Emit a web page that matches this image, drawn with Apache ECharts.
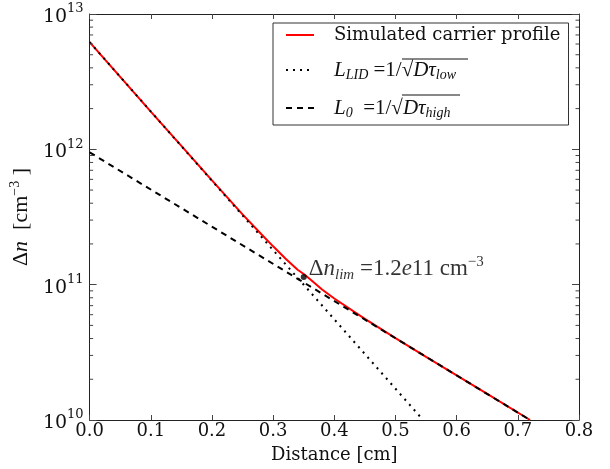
<!DOCTYPE html>
<html><head><meta charset="utf-8">
<script src="https://cdn.jsdelivr.net/npm/echarts@6/dist/echarts.min.js"></script>
<style>html,body{margin:0;padding:0;background:#fff}#c{width:610px;height:469px}</style>
</head><body><div id="c"></div>
<script>
// ---- data ----
const xTickValues = [0, 0.1, 0.2, 0.3, 0.4, 0.5, 0.6, 0.7, 0.8];
const yTickExponents = [10, 11, 12, 13];
const simX = [0, 0.05, 0.10, 0.15, 0.20, 0.25, 0.28, 0.30, 0.32, 0.34, 0.35, 0.36, 0.38, 0.40, 0.45, 0.50, 0.55, 0.60, 0.65, 0.72];
const simY = [6.2e12, 3.43e12, 1.9e12, 1.06e12, 5.9e11, 3.31e11, 2.38e11, 1.92e11, 1.56e11, 1.29e11, 1.2e11, 1.1e11, 9.2e10, 7.9e10, 5.59e10, 4.03e10, 2.93e10, 2.14e10, 1.56e10, 1.0e10];
const lidX = [0, 0.541];
const lidY = [6.2e12, 1.05e10];
const l0X = [0, 0.72];
const l0Y = [9.5e11, 1.0e10];
const limX = [0.35];
const limY = [1.14e11];
const minorY = [];
[1e10, 1e11, 1e12].forEach(d => { for (let k = 2; k <= 9; k++) minorY.push(k * d); });

const zip = (a, b) => a.map((v, i) => [v, b[i]]);
const SERIF = '"DejaVu Serif", serif';
const MATH = '"Liberation Serif", "DejaVu Serif", serif';

const chart = echarts.init(document.getElementById('c'), null, {renderer: 'canvas'});
const axisLineStyle = {color: '#222', width: 1};
const tickStyle = {color: '#444', width: 1};
const option = {
  animation: false,
  backgroundColor: '#fff',
  grid: {left: 88, right: 31, top: 14, bottom: 46},
  xAxis: [{
    type: 'value', min: 0, max: 0.8, interval: 0.1,
    name: 'Distance [cm]', nameLocation: 'middle', nameGap: 26,
    nameTextStyle: {fontFamily: SERIF, fontSize: 18, color: '#111'},
    axisLine: {show: true, onZero: false, lineStyle: axisLineStyle},
    axisTick: {show: true, inside: true, length: 5, lineStyle: tickStyle},
    axisLabel: {fontFamily: SERIF, fontSize: 18, color: '#111', margin: 2,
      formatter: v => xTickValues.some(t => Math.abs(t - v) < 1e-9) ? v.toFixed(1) : ''},
    splitLine: {show: false}
  }, {
    type: 'value', min: 0, max: 0.8, interval: 0.1, position: 'top',
    axisLine: {show: true, onZero: false, lineStyle: axisLineStyle},
    axisTick: {show: true, inside: true, length: 5, lineStyle: tickStyle},
    axisLabel: {show: false}, splitLine: {show: false}
  }],
  yAxis: [{
    type: 'log', logBase: 10, min: 1e10, max: 1e13, position: 'left',
    name: '{d|Δ}{n|n}{d|  [cm}{s|−3}{d| ]}', nameLocation: 'middle', nameGap: 50, nameRotate: 90,
    nameTextStyle: {rich: {
      d: {fontFamily: MATH, fontSize: 22, color: '#111'},
      n: {fontFamily: MATH, fontSize: 22, fontStyle: 'italic', color: '#111'},
      s: {fontFamily: MATH, fontSize: 14, color: '#111', padding: [0, 0, 12, 0]}
    }},
    axisLine: {show: true, onZero: false, lineStyle: axisLineStyle},
    axisTick: {show: true, inside: true, length: 7, lineStyle: tickStyle},
    axisLabel: {margin: 6,
      formatter: v => {
        const e = Math.round(Math.log10(v));
        return yTickExponents.includes(e) ? '{b|10}{s|' + e + '}' : '';
      },
      rich: {
        b: {fontFamily: SERIF, fontSize: 19, color: '#111', padding: [6, 0, 0, 0]},
        s: {fontFamily: SERIF, fontSize: 13, color: '#111', padding: [0, 0, 10, 0]}
      }
    },
    splitLine: {show: false}
  }, {
    type: 'log', logBase: 10, min: 1e10, max: 1e13, position: 'right',
    axisLine: {show: true, onZero: false, lineStyle: axisLineStyle},
    axisTick: {show: true, inside: true, length: 7, lineStyle: tickStyle},
    axisLabel: {show: false}, splitLine: {show: false}
  }],
  legend: {
    left: 273, top: 23, orient: 'vertical',
    data: ['sim', 'lid', 'l0'],
    itemWidth: 28, itemHeight: 22, itemGap: 14,
    padding: [3, 8, 5, 12],
    borderColor: '#333', borderWidth: 1, backgroundColor: '#fff',
    itemStyle: {opacity: 0},
    formatter: name => {
      if (name === 'sim') return '{t|Simulated carrier profile}';
      if (name === 'lid') return '{g|}{i|L}{sub|LID}{m| =1/√}{i|Dτ}{sub|low}';
      return '{g|}{i|L}{sub|0}{m|  =1/√}{i|Dτ}{sub|high}';
    },
    textStyle: {rich: {
      t: {fontFamily: SERIF, fontSize: 18, color: '#111', lineHeight: 22, padding: [0, 0, 0, 15]},
      g: {width: 15, lineHeight: 22},
      i: {fontFamily: MATH, fontSize: 21, fontStyle: 'italic', color: '#111', lineHeight: 22},
      m: {fontFamily: MATH, fontSize: 21, color: '#111', lineHeight: 22},
      sub: {fontFamily: MATH, fontSize: 14, fontStyle: 'italic', color: '#111', lineHeight: 12, padding: [10, 0, 0, 0]}
    }}
  },
  graphic: [
    {type: 'line', z: 100, shape: {x1: 402, y1: 59, x2: 468, y2: 59}, style: {stroke: '#111', lineWidth: 1}},
    {type: 'line', z: 100, shape: {x1: 402, y1: 95, x2: 460, y2: 95}, style: {stroke: '#111', lineWidth: 1}}
  ],
  series: [{
    name: 'sim', type: 'line', data: zip(simX, simY), smooth: false,
    showSymbol: false, symbol: 'none', z: 2,
    lineStyle: {color: '#ff0000', width: 2}, itemStyle: {color: '#ff0000'}
  }, {
    name: 'lid', type: 'line', data: zip(lidX, lidY),
    showSymbol: false, symbol: 'none', z: 3,
    lineStyle: {color: '#000', width: 2, type: [2, 5]}, itemStyle: {color: '#000'}
  }, {
    name: 'l0', type: 'line', data: zip(l0X, l0Y),
    showSymbol: false, symbol: 'none', z: 3,
    lineStyle: {color: '#000', width: 2, type: [6, 5]}, itemStyle: {color: '#000'}
  }, {
    name: 'lim', type: 'scatter', data: zip(limX, limY), symbolSize: 6, z: 4,
    itemStyle: {color: '#000'},
    label: {show: true, position: 'right', distance: 2, offset: [0, -8], color: '#000',
      formatter: '{d|Δ}{n|n}{sub|lim}{d| =1.2}{n|e}{d|11 cm}{sup|−3}',
      rich: {
        d: {fontFamily: MATH, fontSize: 23, color: '#000'},
        n: {fontFamily: MATH, fontSize: 23, fontStyle: 'italic', color: '#000'},
        sub: {fontFamily: MATH, fontSize: 15, fontStyle: 'italic', color: '#000', padding: [13, 0, 0, 0]},
        sup: {fontFamily: MATH, fontSize: 15, color: '#000', padding: [0, 0, 13, 0]}
      }
    }
  }, {
    name: 'minor', type: 'custom', data: minorY.map(v => [0, v]), z: 5, silent: true,
    renderItem: (params, api) => {
      const v = api.value(1);
      const pl = api.coord([0, v]);
      const pr = api.coord([0.8, v]);
      return {type: 'group', children: [
        {type: 'line', shape: {x1: pl[0], y1: pl[1], x2: pl[0] + 3.5, y2: pl[1]}, style: {stroke: '#444', lineWidth: 1}},
        {type: 'line', shape: {x1: pr[0], y1: pr[1], x2: pr[0] - 3.5, y2: pr[1]}, style: {stroke: '#444', lineWidth: 1}}
      ]};
    }
  }]
};
chart.setOption(option);
</script></body></html>
